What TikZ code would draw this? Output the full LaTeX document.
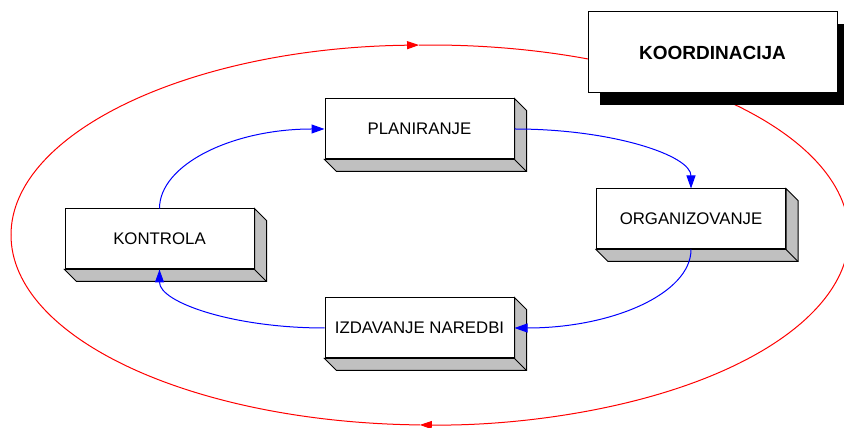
\documentclass[tikz,border=0pt]{standalone}
\usepackage{fontspec}
\setmainfont{Liberation Sans}
\usetikzlibrary{arrows.meta}
\definecolor{sivo}{HTML}{C0C0C0}

\begin{document}
\begin{tikzpicture}[x=1pt,y=1pt,line width=1pt,
  box/.style={draw,fill=white,minimum width=189pt,minimum height=60pt,inner sep=0pt,
    font=\fontsize{16.8}{20}\selectfont},
  depth/.style={draw,fill=sivo,line join=miter},
  arr/.style={blue,-{Triangle[length=13pt,width=9pt]}},
  loop/.style={red,-{Triangle[length=12pt,width=8pt]}}]
\useasboundingbox (0,0) rectangle (844,428);
% red cycle behind everything
\coordinate (c) at (430,193);
\draw[loop] (c) ++(-419,0) arc[start angle=180,end angle=91.5,x radius=419,y radius=190];
\draw[loop] (c) ++(91.5:419 and 190) arc[start angle=91.5,end angle=-91.4,x radius=419,y radius=190];
\draw[red] (c) ++(-91.4:419 and 190) arc[start angle=-91.4,end angle=-180,x radius=419,y radius=190];
% coordination box with shadow
\fill[black] (600,323) rectangle (849,404);
\node[draw,fill=white,minimum width=249pt,minimum height=81pt,inner sep=0pt,
  font=\fontsize{19}{22}\selectfont\bfseries] (koord) at (712.5,375.5) {KOORDINACIJA};
% the four functions
\node[box] (plan) at (419.5,299) {PLANIRANJE};
\node[box] (org) at (691,209) {ORGANIZOVANJE};
\node[box] (izd) at (419.5,100) {IZDAVANJE NAREDBI};
\node[box] (kon) at (159.5,189) {KONTROLA};
\foreach \n in {plan,org,izd,kon}{
  \filldraw[depth] (\n.north east) -- ([shift={(12,-12)}]\n.north east)
    -- ([shift={(12,-12)}]\n.south east) -- ([shift={(12,-12)}]\n.south west)
    -- (\n.south west) -- (\n.south east) -- cycle;
  \draw (\n.south east) -- ([shift={(12,-12)}]\n.south east);
}
\draw[arr] (kon.north) .. controls +(0,44) and +(-92,0) .. (plan.west);
\draw[arr] (plan.east) .. controls +(98,0) and +(0,33) .. (org.north);
\draw[arr] (org.south) .. controls +(0,-44) and +(98,0) .. (izd.east);
\draw[arr] (izd.west) .. controls +(-91,0) and +(0,-33) .. (kon.south);
\end{tikzpicture}
\end{document}
